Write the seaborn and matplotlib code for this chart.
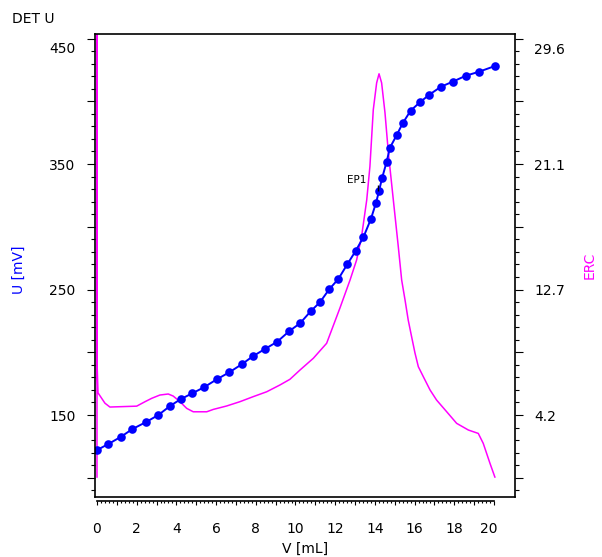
import matplotlib

matplotlib.use("Agg")
import matplotlib.pyplot as plt
import matplotlib.ticker as mticker
from matplotlib.transforms import ScaledTranslation
import pandas as pd
import seaborn as sns

# titration curve: dosed volume vs measured potential
volume_ml = [
    0.0, 0.57, 1.21, 1.78, 2.47, 3.09, 3.68, 4.22, 4.80, 5.39, 6.03, 6.66, 7.29,
    7.87, 8.46, 9.08, 9.69, 10.23, 10.78, 11.23, 11.70, 12.16, 12.61, 13.03,
    13.42, 13.80, 14.06, 14.21, 14.36, 14.59, 14.76, 15.10, 15.40, 15.80, 16.27,
    16.74, 17.33, 17.92, 18.59, 19.26, 20.05,
]
potential_mv = [
    122.1, 126.9, 132.7, 138.8, 144.4, 150.0, 157.2, 162.7, 167.3, 172.1, 178.4,
    184.0, 190.4, 197.0, 202.6, 208.4, 216.9, 223.1, 232.9, 239.8, 250.2, 258.4,
    270.1, 280.7, 291.6, 306.2, 319.2, 328.5, 338.6, 351.6, 363.0, 373.1, 382.4,
    392.5, 399.2, 405.2, 411.6, 415.6, 420.4, 423.6, 428.1,
]

# ERC (first derivative) trace
erc_volume_ml = [
    0.0, 0.0, 0.0, 0.05, 0.40, 0.65, 2.00, 2.42, 2.76, 3.17, 3.59, 3.84, 4.18,
    4.52, 4.85, 5.53, 5.86, 6.53, 7.20, 7.87, 8.55, 9.22, 9.72, 10.23, 10.90,
    11.57, 12.24, 12.75, 13.08, 13.33, 13.59, 13.75, 13.92, 14.09, 14.21, 14.34,
    14.51, 14.68, 14.93, 15.18, 15.35, 15.52, 15.68, 15.85, 16.02, 16.19, 16.44,
    16.78, 17.11, 17.62, 18.12, 18.71, 19.21, 19.46, 19.80, 20.05,
]
erc_values = [
    0.0, 32.0, 7.9, 5.7, 5.0, 4.74, 4.8, 5.1, 5.33, 5.55, 5.62, 5.48, 5.1, 4.65,
    4.42, 4.42, 4.58, 4.81, 5.1, 5.44, 5.77, 6.23, 6.61, 7.24, 8.03, 9.04, 11.42,
    13.31, 14.66, 16.24, 18.71, 20.96, 24.79, 26.61, 27.22, 26.61, 24.59, 21.89,
    18.71, 15.56, 13.31, 11.96, 10.61, 9.49, 8.39, 7.46, 6.79, 5.89, 5.21, 4.42,
    3.64, 3.19, 2.96, 2.29, 0.94, 0.0,
]

ep_label = "EP1"
ep_volume_ml = 14.17
ep_potential_mv = 331.0

u_labels = [150, 250, 350, 450]
erc_labels = ["4.2", "12.7", "21.1", "29.6"]

BLUE = "#0000FF"
MAGENTA = "#FF00FF"

sns.set_theme(style="white")
plt.rcParams["font.family"] = ["DejaVu Sans"]
plt.rcParams["font.size"] = 10
plt.rcParams["text.color"] = "black"
plt.rcParams["xtick.color"] = "black"
plt.rcParams["ytick.color"] = "black"
plt.rcParams["axes.labelcolor"] = "black"

u_min, u_max = 84.7, 453.6
x_min, x_max = -0.1, 21.06
erc_per_mv = (float(erc_labels[-1]) - float(erc_labels[0])) / (u_labels[-1] - u_labels[0])


def to_erc(u):
    return float(erc_labels[0]) + (u - u_labels[0]) * erc_per_mv


def shift_label(tick, fig, dx_px, dy_px):
    off = ScaledTranslation(dx_px / fig.dpi, dy_px / fig.dpi, fig.dpi_scale_trans)
    for lab in (tick.label1, tick.label2):
        lab.set_transform(lab.get_transform() + off)


titration = pd.DataFrame({"V": volume_ml, "U": potential_mv})
erc = pd.DataFrame({"V": erc_volume_ml, "ERC": erc_values})

fig = plt.figure(figsize=(6.02, 5.57), dpi=100)
ax = fig.add_axes([95 / 602, 60 / 557, 420 / 602, 463 / 557])
ax2 = ax.twinx()

sns.lineplot(
    data=erc, x="V", y="ERC", sort=False, estimator=None,
    color=MAGENTA, linewidth=1.1, ax=ax2,
)
sns.lineplot(
    data=titration, x="V", y="U", sort=False, estimator=None,
    color=BLUE, linewidth=1.4, marker="o", markersize=6.2,
    markeredgewidth=0, ax=ax,
)
ax.plot([ep_volume_ml], [ep_potential_mv], marker="|", color="black",
        markersize=4, markeredgewidth=1)
ax.text(ep_volume_ml - 0.58, ep_potential_mv + 6, ep_label, fontsize=7.5,
        ha="right", va="center", color="black")

ax.set_zorder(ax2.get_zorder() + 1)
ax.patch.set_visible(False)

ax.set_xlim(x_min, x_max)
ax.set_ylim(u_min, u_max)
ax2.set_ylim(to_erc(u_min), to_erc(u_max))

# left axis
left_major = list(range(100, 451, 50))
ax.yaxis.set_major_locator(mticker.FixedLocator(left_major))
ax.yaxis.set_minor_locator(mticker.MultipleLocator(10))
ax.yaxis.set_major_formatter(
    mticker.FuncFormatter(lambda v, p: f"{v:.0f}" if round(v) in u_labels else "")
)
ax.tick_params(axis="y", which="major", direction="out", length=6, width=0.8,
               pad=8, left=True, labelsize=10)
ax.tick_params(axis="y", which="minor", direction="out", length=3, width=0.8,
               left=True)

# bottom ruler, 0..20 mL only
ruler_major = list(range(0, 21))
ruler_minor = [i * 0.2 for i in range(101)]
ax.xaxis.set_major_locator(mticker.FixedLocator(ruler_major))
ax.xaxis.set_minor_locator(mticker.FixedLocator(ruler_minor))
ax.xaxis.set_major_formatter(
    mticker.FuncFormatter(lambda v, p: f"{v:.0f}" if round(v) % 2 == 0 else "")
)
ax.tick_params(axis="x", which="major", direction="out", length=3, width=0.8,
               pad=12, bottom=True, labelsize=10)
ax.tick_params(axis="x", which="minor", direction="out", length=1.6, width=0.8,
               bottom=True)
ax.spines["bottom"].set_position(("outward", 3))
ax.spines["bottom"].set_bounds(0, 20)

# right axis
right_major = [to_erc(u) for u in left_major]
ax2.yaxis.set_major_locator(mticker.FixedLocator(right_major))
ax2.yaxis.set_minor_locator(mticker.FixedLocator([to_erc(u) for u in range(90, 454, 10)]))
label_map = {round(to_erc(u), 3): t for u, t in zip(u_labels, erc_labels)}
ax2.yaxis.set_major_formatter(
    mticker.FuncFormatter(lambda v, p: label_map.get(round(v, 3), ""))
)
ax2.tick_params(axis="y", which="major", direction="out", length=6, width=0.8,
                pad=8, right=True, labelsize=10)
ax2.tick_params(axis="y", which="minor", direction="out", length=3, width=0.8,
                right=True)

# top labels sit a little lower, last ruler label a little left (as in the instrument plot)
shift_label(ax.yaxis.get_major_ticks()[-1], fig, 0, -9)
shift_label(ax2.yaxis.get_major_ticks()[-1], fig, 0, -10)
shift_label(ax.xaxis.get_major_ticks()[-1], fig, -5, 0)

for spine in ax.spines.values():
    spine.set_color("black")
    spine.set_linewidth(1.2)
ax.spines["right"].set_visible(False)
for name, spine in ax2.spines.items():
    spine.set_color("black")
    spine.set_linewidth(1.2)
    spine.set_visible(name in ("bottom", "right"))

ax.grid(False)
ax2.grid(False)

ax.set_xlabel("V [mL]", fontsize=10, labelpad=4)
ax.set_ylabel("U [mV]", fontsize=10, color=BLUE)
ax.yaxis.set_label_coords(-0.165, 0.49)
ax2.set_ylabel("ERC", fontsize=10, color=MAGENTA)
ax2.yaxis.set_label_coords(1.16, 0.50)

fig.text(12 / 602, 1 - 19 / 557, "DET U", fontsize=10, ha="left", va="center")

fig.savefig("out.png", dpi=100)
